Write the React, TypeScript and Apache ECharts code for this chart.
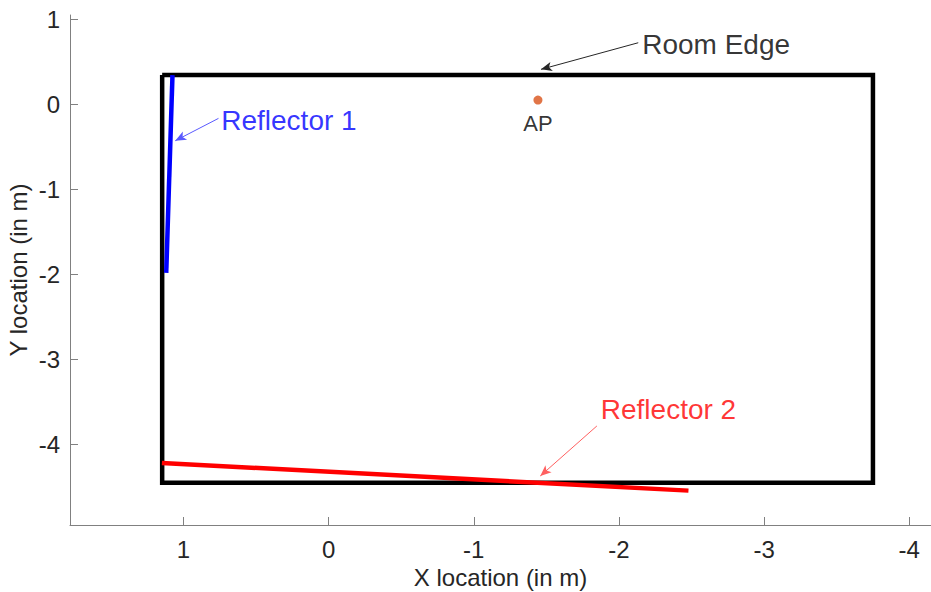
import React, { useEffect, useRef } from "react";
import * as echarts from "echarts";

const FONT = "Helvetica, 'Liberation Sans', Arial, sans-serif";

// Room corners (x, y) in metres
const roomX = [1.147, -3.75, -3.75, 1.147, 1.147];
const roomY = [0.344, 0.344, -4.447, -4.447, 0.344];

// Reflectors
const reflector1X = [1.119, 1.076];
const reflector1Y = [-1.98, 0.344];
const reflector2X = [1.149, -2.479];
const reflector2Y = [-4.215, -4.54];

// Access point
const apPoint = [-1.442, 0.05];

// Annotation arrows: [startX, startY, endX, endY]
const roomEdgeArrow = [-2.133, 0.724, -1.463, 0.411];
const reflector1Arrow = [0.759, -0.165, 1.057, -0.428];
const reflector2Arrow = [-1.848, -3.78, -1.458, -4.368];

// Annotation text anchors (left, vertical centre)
const roomEdgeText = [-2.16, 0.709];
const reflector1Text = [0.74, -0.185];
const reflector2Text = [-1.875, -3.59];

const xTicks = [1, 0, -1, -2, -3, -4];
const yTicks = [1, 0, -1, -2, -3, -4];

const zip = (xs: number[], ys: number[]) => xs.map((x, i) => [x, ys[i]]);

function arrowSeries(a: number[], color: string) {
  return {
    type: "line",
    data: [],
    silent: true,
    markLine: {
      silent: true,
      symbol: ["none", "arrow"],
      symbolSize: [7, 11],
      label: { show: false },
      lineStyle: { color, width: 1, type: "solid" },
      data: [[{ coord: [a[0], a[1]] }, { coord: [a[2], a[3]] }]],
    },
  };
}

function textSeries(p: number[], text: string, color: string) {
  return {
    type: "scatter",
    symbolSize: 0,
    silent: true,
    data: [p],
    label: {
      show: true,
      position: "right",
      distance: 0,
      formatter: text,
      color,
      fontSize: 28,
      fontFamily: FONT,
    },
  };
}

export default function App() {
  const ref = useRef<HTMLDivElement>(null);
  useEffect(() => {
    if (!ref.current) return;
    const chart = echarts.init(ref.current, undefined, { renderer: "svg" });
    const axisCommon = {
      type: "value",
      nameLocation: "middle",
      nameMoveOverlap: false,
      nameTextStyle: { fontSize: 24, color: "#262626", fontFamily: FONT },
      axisLine: { show: true, onZero: false, lineStyle: { color: "#808080", width: 1 } },
      axisTick: { show: true, inside: true, length: 8, lineStyle: { color: "#808080" } },
      axisLabel: { fontSize: 24, color: "#262626", fontFamily: FONT },
      splitLine: { show: false },
    };
    chart.setOption({
      animation: false,
      backgroundColor: "#ffffff",
      grid: {
        left: 70,
        right: 0,
        top: 15,
        bottom: 67,
        containLabel: false,
        outerBoundsMode: "none",
      },
      xAxis: {
        ...axisCommon,
        name: "X location (in m)",
        nameGap: 40,
        inverse: true,
        min: -4.15,
        max: 1.782,
        axisTick: { ...axisCommon.axisTick, customValues: xTicks },
        axisLabel: { ...axisCommon.axisLabel, margin: 12, customValues: xTicks },
      },
      yAxis: {
        ...axisCommon,
        name: "Y location (in m)",
        nameGap: 40,
        min: -4.944,
        max: 1.05,
        axisTick: { ...axisCommon.axisTick, customValues: yTicks },
        axisLabel: { ...axisCommon.axisLabel, margin: 10, customValues: yTicks },
      },
      series: [
        {
          type: "line",
          data: zip(roomX, roomY),
          showSymbol: false,
          symbol: "none",
          lineStyle: { color: "#000000", width: 4.5, join: "miter" },
          z: 2,
        },
        {
          type: "line",
          data: zip(reflector1X, reflector1Y),
          showSymbol: false,
          symbol: "none",
          lineStyle: { color: "#0000ff", width: 4.5 },
          z: 3,
        },
        {
          type: "line",
          data: zip(reflector2X, reflector2Y),
          showSymbol: false,
          symbol: "none",
          lineStyle: { color: "#ff0000", width: 4.5 },
          z: 3,
        },
        {
          type: "scatter",
          data: [apPoint],
          symbolSize: 9,
          itemStyle: { color: "#d95319" },
          label: {
            show: true,
            position: "bottom",
            distance: 8,
            formatter: "AP",
            color: "#000000",
            fontSize: 22,
            fontFamily: FONT,
          },
          z: 4,
        },
        arrowSeries(roomEdgeArrow, "#262626"),
        arrowSeries(reflector1Arrow, "#5a5aff"),
        arrowSeries(reflector2Arrow, "#ff6060"),
        textSeries(roomEdgeText, "Room Edge", "#000000"),
        textSeries(reflector1Text, "Reflector 1", "#0000ff"),
        textSeries(reflector2Text, "Reflector 2", "#ff0000"),
      ],
    });
    return () => chart.dispose();
  }, []);
  return (
    <div
      ref={ref}
      style={{ position: "absolute", left: 0, top: 0, width: 931, height: 592 }}
    />
  );
}
